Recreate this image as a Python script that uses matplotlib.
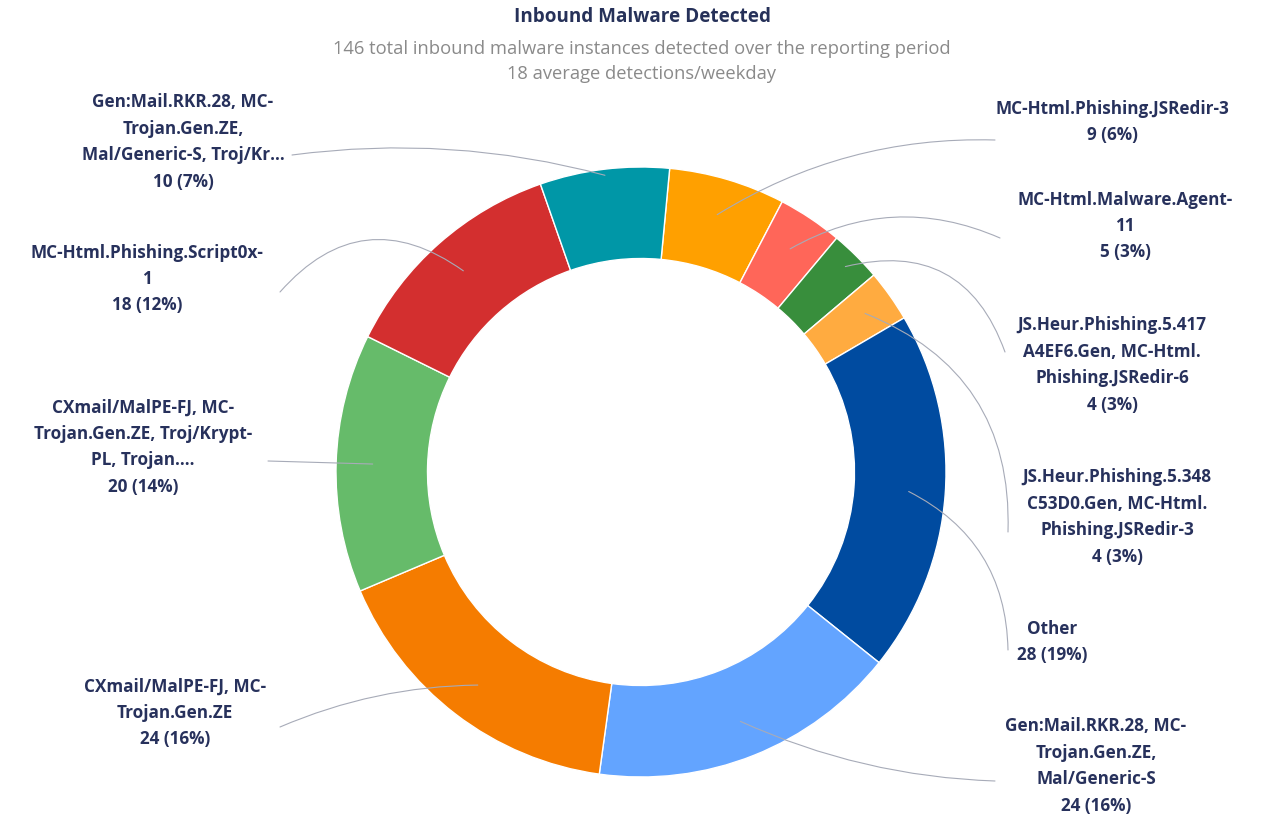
import numpy as np
import matplotlib.pyplot as plt

# slice data, clockwise starting just right of 12 o'clock
labels = [
    "MC-Html.Phishing.JSRedir-3",
    "MC-Html.Malware.Agent-\n11",
    "JS.Heur.Phishing.5.417\nA4EF6.Gen, MC-Html.\nPhishing.JSRedir-6",
    "JS.Heur.Phishing.5.348\nC53D0.Gen, MC-Html.\nPhishing.JSRedir-3",
    "Other",
    "Gen:Mail.RKR.28, MC-\nTrojan.Gen.ZE,\nMal/Generic-S",
    "CXmail/MalPE-FJ, MC-\nTrojan.Gen.ZE",
    "CXmail/MalPE-FJ, MC-\nTrojan.Gen.ZE, Troj/Krypt-\nPL, Trojan....",
    "MC-Html.Phishing.Script0x-\n1",
    "Gen:Mail.RKR.28, MC-\nTrojan.Gen.ZE,\nMal/Generic-S, Troj/Kr...",
]
counts = [9, 5, 4, 4, 28, 24, 24, 20, 18, 10]
colors = ["#ffa000", "#ff6659", "#388e3c", "#ffab40", "#004ba0",
          "#63a4ff", "#f57c00", "#66bb6a", "#d32f2f", "#0097a7"]

title = "Inbound Malware Detected"
subtitle = "146 total inbound malware instances detected over the reporting period\n18 average detections/weekday"

# layout (pixel coords, y from top)
W, H = 1268, 822
cx, cy, R = 641, 472, 305
label_pos = [(1112, 122), (1125, 226), (1112, 365), (1117, 517), (1052, 642),
             (1096, 766), (175, 713), (143, 447), (147, 279), (183, 142)]
conn_start = [(995, 140), (1000, 238), (1005, 352), (1008, 532), (1008, 650),
              (995, 781), (280, 727), (268, 461), (280, 292), (292, 155)]
conn_rad = [0.15, 0.25, 0.45, 0.35, 0.3, -0.1, -0.1, 0.0, -0.45, -0.1]
conn_depth = [0.88, 0.88, 0.95, 0.9, 0.88, 0.88, 0.88, 0.88, 0.88, 0.98]

plt.rcParams['font.family'] = ['Open Sans', 'DejaVu Sans']
fig = plt.figure(figsize=(12.68, 8.22), dpi=100)
ax = fig.add_axes([0, 0, 1, 1])

total = sum(counts)
start = 90 - 5.4
wedges, _ = ax.pie(counts, colors=colors, center=(cx, H - cy), radius=R,
                   startangle=start, counterclock=False,
                   wedgeprops=dict(width=0.30 * R, edgecolor='white', linewidth=1))
ax.set_xlim(0, W)
ax.set_ylim(0, H)
ax.set_aspect('equal')
ax.axis('off')

txt_color = '#27315c'
for i, w in enumerate(wedges):
    mid = np.deg2rad((w.theta1 + w.theta2) / 2)
    rr = conn_depth[i] * R
    px, py = cx + rr * np.cos(mid), (H - cy) + rr * np.sin(mid)
    pct = round(100 * counts[i] / total)
    lx, ly = label_pos[i]
    ax.text(lx, H - ly, f"{labels[i]}\n{counts[i]} ({pct}%)", ha='center', va='center',
            fontsize=12.3, fontweight='bold', color=txt_color, linespacing=1.6)
    sx, sy = conn_start[i]
    ax.annotate("", xy=(px, py), xytext=(sx, H - sy),
                arrowprops=dict(arrowstyle='-', color='#a7abb8', lw=0.8,
                                connectionstyle=f"arc3,rad={conn_rad[i]}",
                                shrinkA=0, shrinkB=0))

ax.text(642, H - 17, title, ha='center', va='center', fontsize=13.6,
        fontweight='bold', color='#263159')
ax.text(642, H - 61, subtitle, ha='center', va='center', fontsize=13.2,
        color='#8a8a8a', linespacing=1.5)

fig.savefig('out.png', dpi=100)
